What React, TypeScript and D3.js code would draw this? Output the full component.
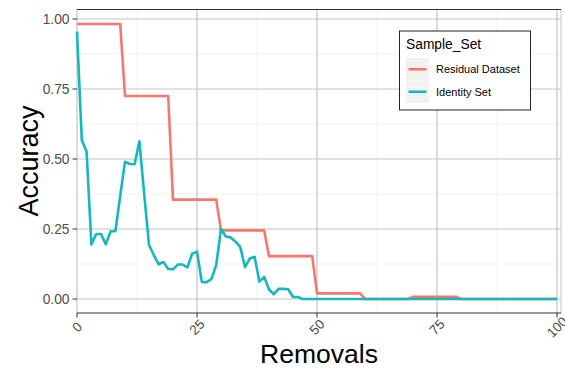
import * as d3 from "d3";

const removals: number[] = d3.range(0, 101);

// Residual Dataset accuracy per removal count
const residual: number[] = [
  0.982, 0.982, 0.982, 0.982, 0.982, 0.982, 0.982, 0.982, 0.982, 0.982,
  0.725, 0.725, 0.725, 0.725, 0.725, 0.725, 0.725, 0.725, 0.725, 0.725,
  0.355, 0.355, 0.355, 0.355, 0.355, 0.355, 0.355, 0.355, 0.355, 0.355,
  0.245, 0.245, 0.245, 0.245, 0.245, 0.245, 0.245, 0.245, 0.245, 0.245,
  0.153, 0.153, 0.153, 0.153, 0.153, 0.153, 0.153, 0.153, 0.153, 0.153,
  0.02, 0.02, 0.02, 0.02, 0.02, 0.02, 0.02, 0.02, 0.02, 0.02,
  0, 0, 0, 0, 0, 0, 0, 0, 0, 0,
  0.008, 0.008, 0.008, 0.008, 0.008, 0.008, 0.008, 0.008, 0.008, 0.008,
  0, 0, 0, 0, 0, 0, 0, 0, 0, 0,
  0, 0, 0, 0, 0, 0, 0, 0, 0, 0,
  0,
];

// Identity Set accuracy per removal count
const identity: number[] = [
  0.955, 0.568, 0.526, 0.195, 0.232, 0.232, 0.195, 0.242, 0.242, 0.368,
  0.49, 0.482, 0.481, 0.563, 0.375, 0.193, 0.157, 0.124, 0.132, 0.107,
  0.106, 0.123, 0.123, 0.113, 0.162, 0.169, 0.061, 0.06, 0.071, 0.121,
  0.25, 0.223, 0.22, 0.205, 0.186, 0.114, 0.145, 0.151, 0.062, 0.079,
  0.034, 0.017, 0.036, 0.036, 0.035, 0.007, 0.007, 0, 0, 0,
  0, 0, 0, 0, 0, 0, 0, 0, 0, 0,
  0, 0, 0, 0, 0, 0, 0, 0, 0, 0,
  0, 0, 0, 0, 0, 0, 0, 0, 0, 0,
  0, 0, 0, 0, 0, 0, 0, 0, 0, 0,
  0, 0, 0, 0, 0, 0, 0, 0, 0, 0,
  0,
];

const seriesNames = ["Residual Dataset", "Identity Set"];
const seriesColors = ["#F8766D", "#16B8BB"];
const xTicks = [0, 25, 50, 75, 100];
const xMinor = [12.5, 37.5, 62.5, 87.5];
const yTicks = [0, 0.25, 0.5, 0.75, 1];
const yMinor = [0.125, 0.375, 0.625, 0.875];

const W = 565;
const H = 369;
const panel = { left: 77, right: 561, top: 9, bottom: 313 };
const font = "'Liberation Sans', Arial, Helvetica, sans-serif";

export default function App() {
  const x = d3.scaleLinear().domain([0, 100]).range([77, 557]);
  const y = d3.scaleLinear().domain([0, 1]).range([299, 19]);

  const line = d3
    .line<number>()
    .x((_, i) => x(removals[i]))
    .y((d) => y(d));

  const series = [residual, identity];

  return (
    <div style={{ position: "fixed", left: 0, top: 0 }}>
      <svg width={W} height={H} style={{ display: "block", background: "#fff" }} fontFamily={font}>
        {/* minor grid */}
        {xMinor.map((t) => (
          <line key={"xm" + t} x1={x(t)} x2={x(t)} y1={panel.top} y2={panel.bottom} stroke="#EBEBEB" strokeWidth={0.6} />
        ))}
        {yMinor.map((t) => (
          <line key={"ym" + t} x1={panel.left} x2={panel.right} y1={y(t)} y2={y(t)} stroke="#EBEBEB" strokeWidth={0.6} />
        ))}
        {/* major grid */}
        {xTicks.map((t) => (
          <line key={"xg" + t} x1={x(t)} x2={x(t)} y1={panel.top} y2={panel.bottom} stroke="#C4C4C4" strokeWidth={1.2} />
        ))}
        {yTicks.map((t) => (
          <line key={"yg" + t} x1={panel.left} x2={panel.right} y1={y(t)} y2={y(t)} stroke="#C4C4C4" strokeWidth={1.2} />
        ))}

        {/* panel edges */}
        <line x1={panel.right} x2={panel.right} y1={panel.top} y2={panel.bottom} stroke="#C4C4C4" strokeWidth={1} />
        <line x1={panel.left} x2={panel.right} y1={panel.top + 0.5} y2={panel.top + 0.5} stroke="#333" strokeWidth={1} />
        <line x1={panel.left} x2={panel.right} y1={panel.bottom} y2={panel.bottom} stroke="#333" strokeWidth={1} />

        {/* data */}
        {series.map((s, i) => (
          <path key={seriesNames[i]} d={line(s) || ""} fill="none" stroke={seriesColors[i]} strokeWidth={2.6} strokeLinejoin="round" />
        ))}

        {/* y axis */}
        {yTicks.map((t) => (
          <g key={"yt" + t}>
            <line x1={panel.left - 4.5} x2={panel.left} y1={y(t)} y2={y(t)} stroke="#333" strokeWidth={1} />
            <text x={panel.left - 7.5} y={y(t)} dy="0.35em" textAnchor="end" fontSize={13.8} fill="#4D4D4D">
              {t.toFixed(2)}
            </text>
          </g>
        ))}

        {/* x axis */}
        {xTicks.map((t) => (
          <g key={"xt" + t}>
            <line x1={x(t)} x2={x(t)} y1={panel.bottom} y2={panel.bottom + 4.5} stroke="#333" strokeWidth={1} />
            <text
              transform={`translate(${x(t)},${panel.bottom + 14}) rotate(-45)`}
              textAnchor="middle"
              dy="0.35em"
              fontSize={13.5}
              fill="#4D4D4D"
            >
              {t}
            </text>
          </g>
        ))}

        {/* axis titles */}
        <text x={(panel.left + panel.right) / 2} y={363} textAnchor="middle" fontSize={26.5} fill="#000">
          Removals
        </text>
        <text
          transform={`translate(38,${(panel.top + panel.bottom) / 2}) rotate(-90)`}
          textAnchor="middle"
          fontSize={27}
          fill="#000"
        >
          Accuracy
        </text>

        {/* legend */}
        <g>
          <rect x={399.5} y={31} width={131} height={79} fill="#fff" stroke="#222" strokeWidth={1} />
          <text x={406} y={49} fontSize={13.8} fill="#000">
            Sample_Set
          </text>
          {seriesNames.map((name, i) => (
            <g key={"lg" + name} transform={`translate(406,${58 + i * 22.5})`}>
              <rect x={0} y={0} width={23} height={22.5} fill="#F2F2F2" />
              <line x1={2.5} x2={20.5} y1={11.25} y2={11.25} stroke={seriesColors[i]} strokeWidth={2.6} />
              <text x={30} y={11.25} dy="0.35em" fontSize={11} fill="#000">
                {name}
              </text>
            </g>
          ))}
        </g>
      </svg>
    </div>
  );
}
